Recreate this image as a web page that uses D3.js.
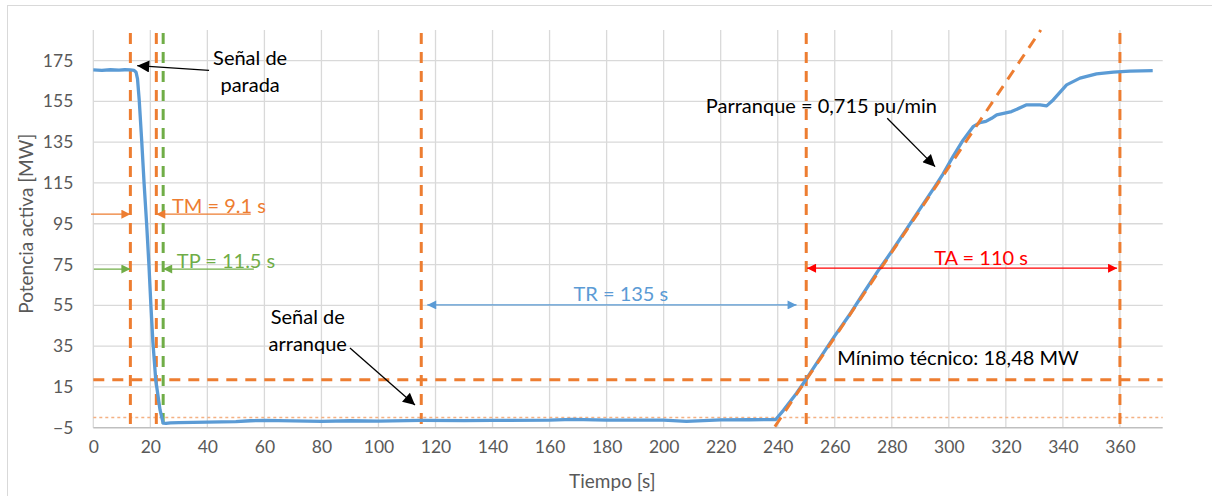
<!DOCTYPE html>
<html><head><meta charset="utf-8">
<script src="https://cdn.jsdelivr.net/npm/d3@7"></script>
<style>body{margin:0;background:#fff}svg{display:block}</style>
</head><body><svg id="c" width="1212" height="496"></svg>
<script>
// ---- data ----
const timeS = [0, 3, 6, 9, 11, 13, 14.3, 15, 15.5, 16.1, 17, 17.8, 18.7, 19.5, 20.2, 20.9, 21.9, 23.4, 24.5, 25.5, 27, 30, 40, 50, 55, 60, 70, 80, 90, 100, 110, 115, 130, 140, 160, 168, 180, 200, 208, 220, 230, 239.3, 242, 246.6, 250, 255, 260, 265, 270, 275, 280, 285, 290, 295, 298, 301.5, 305, 308.5, 310.9, 313, 315, 316.8, 322, 327.3, 332, 334.3, 336.6, 341.3, 346, 351.8, 357.7, 363.5, 371.5];
const powerMW = [170.4, 170.2, 170.5, 170.3, 170.5, 170.4, 170.2, 169.3, 166, 155.7, 135, 115, 95, 75, 55, 37, 18.4, 3.7, -2.8, -2.9, -2.6, -2.5, -2.3, -2.0, -1.6, -1.4, -1.7, -1.9, -1.6, -1.8, -1.5, -1.4, -1.5, -1.4, -1.3, -0.9, -1.3, -1.3, -1.9, -1.2, -1.1, -1.0, 3.5, 11.9, 18.8, 29.5, 40, 50, 60.8, 71.5, 81.5, 92, 102.5, 113, 119.5, 128, 136, 142.6, 144.6, 145.2, 146.7, 148.4, 150, 153.3, 153.3, 152.8, 155.7, 163.1, 166.4, 168.5, 169.3, 169.8, 170.1];
const xTicks = [0, 20, 40, 60, 80, 100, 120, 140, 160, 180, 200, 220, 240, 260, 280, 300, 320, 340, 360];
const yTicks = [-5, 15, 35, 55, 75, 95, 115, 135, 155, 175];
const orangeMarkers = [13, 22.1, 115, 250, 360];
const greenMarkers = [24.5];
const minTecnicoMW = 18.48;
const zeroRefMW = 0;
const rampPuPerMin = 0.715;
const pNomMW = 175;
const rampStartT = 239;

// ---- layout ----
const svg = d3.select("#c");
const x = d3.scaleLinear().domain([0, 375]).range([93.3, 1162.7]);
const y = d3.scaleLinear().domain([-5, 190]).range([427.7, 30]);
const FONT = "Lato, 'Open Sans', sans-serif";
const ORANGE = "#ed7d31", GREEN = "#70ad47", BLUE = "#5b9bd5", RED = "#ff0000";
const ANN = 20;

// chart border
svg.append("rect").attr("x", 7.5).attr("y", 5.5).attr("width", 1220).attr("height", 520)
  .attr("fill", "none").attr("stroke", "#d9d9d9").attr("stroke-width", 1);

// arrow markers
const defs = svg.append("defs");
function marker(id, color) {
  defs.append("marker").attr("id", id).attr("viewBox", "0 0 10 10")
    .attr("refX", 10).attr("refY", 5).attr("markerWidth", 11).attr("markerHeight", 9)
    .attr("markerUnits", "userSpaceOnUse").attr("orient", "auto-start-reverse")
    .append("path").attr("d", "M0,0 L10,5 L0,10 Z").attr("fill", color);
}
marker("aO", ORANGE); marker("aG", GREEN); marker("aB", BLUE); marker("aR", RED);
defs.append("marker").attr("id", "aK").attr("viewBox", "0 0 10 10")
  .attr("refX", 10).attr("refY", 5).attr("markerWidth", 14).attr("markerHeight", 12)
  .attr("markerUnits", "userSpaceOnUse").attr("orient", "auto")
  .append("path").attr("d", "M0,0 L10,5 L0,10 Z").attr("fill", "#000");

// gridlines
const g = svg.append("g");
g.selectAll(".vg").data(xTicks).join("line")
  .attr("x1", d => x(d)).attr("x2", d => x(d)).attr("y1", y(190)).attr("y2", y(-5))
  .attr("stroke", "#d9d9d9").attr("stroke-width", 1.3);
g.selectAll(".hg").data(yTicks.slice(1)).join("line")
  .attr("x1", x(0)).attr("x2", x(375)).attr("y1", d => y(d)).attr("y2", d => y(d))
  .attr("stroke", "#d9d9d9").attr("stroke-width", 1.3);
g.append("line").attr("x1", x(0)).attr("x2", x(375)).attr("y1", y(-5)).attr("y2", y(-5))
  .attr("stroke", "#bfbfbf").attr("stroke-width", 1.5);

// axes tick labels
const xAxis = d3.axisBottom(x).tickValues(xTicks).tickSize(0).tickPadding(13);
const xa = svg.append("g").attr("transform", `translate(0,${y(-5)})`).call(xAxis);
const yAxis = d3.axisLeft(y).tickValues(yTicks).tickSize(0).tickPadding(20);
const ya = svg.append("g").attr("transform", `translate(${x(0)},0)`).call(yAxis);
[xa, ya].forEach(a => {
  a.select(".domain").remove();
  a.selectAll("text").attr("font-family", FONT).attr("font-size", 17.5).attr("fill", "#595959");
});

// axis titles
svg.append("text").attr("x", x(182)).attr("y", 480).attr("text-anchor", "middle")
  .attr("dominant-baseline", "central").attr("font-family", FONT).attr("font-size", 19)
  .attr("fill", "#595959").text("Tiempo [s]");
svg.append("text").attr("transform", `translate(25,${y(95)}) rotate(-90)`)
  .attr("text-anchor", "middle").attr("dominant-baseline", "central")
  .attr("font-family", FONT).attr("font-size", 19).attr("fill", "#595959")
  .text("Potencia activa [MW]");

// dotted zero reference
svg.append("line").attr("x1", x(0)).attr("x2", x(375)).attr("y1", y(zeroRefMW)).attr("y2", y(zeroRefMW))
  .attr("stroke", "#f4b183").attr("stroke-width", 1.5).attr("stroke-dasharray", "3,3");
// minimo tecnico dashed
svg.append("line").attr("x1", x(0)).attr("x2", x(375)).attr("y1", y(minTecnicoMW)).attr("y2", y(minTecnicoMW))
  .attr("stroke", ORANGE).attr("stroke-width", 3).attr("stroke-dasharray", "11,8");
// vertical markers
svg.selectAll(".vo").data(orangeMarkers).join("line")
  .attr("x1", d => x(d)).attr("x2", d => x(d)).attr("y1", y(188.5)).attr("y2", y(-6))
  .attr("stroke", ORANGE).attr("stroke-width", 3).attr("stroke-dasharray", "11,8");
svg.selectAll(".vgn").data(greenMarkers).join("line")
  .attr("x1", d => x(d)).attr("x2", d => x(d)).attr("y1", y(188.5)).attr("y2", y(-6))
  .attr("stroke", GREEN).attr("stroke-width", 3).attr("stroke-dasharray", "11,8");

// data line
const line = d3.line().x((d, i) => x(timeS[i])).y((d, i) => y(powerMW[i]));
svg.append("path").datum(powerMW).attr("d", line).attr("fill", "none")
  .attr("stroke", BLUE).attr("stroke-width", 3.3).attr("stroke-linejoin", "round");

// ramp trend line
const slope = rampPuPerMin * pNomMW / 60; // MW/s
const tAt = v => 250 + (v - minTecnicoMW) / slope;
svg.append("line").attr("x1", x(rampStartT)).attr("y1", y(minTecnicoMW + slope * (rampStartT - 250)))
  .attr("x2", x(tAt(190))).attr("y2", y(190))
  .attr("stroke", ORANGE).attr("stroke-width", 3).attr("stroke-dasharray", "11,8");

// ---- annotations ----
function txt(t, v, s, color, anchor) {
  svg.append("text").attr("x", x(t)).attr("y", y(v)).attr("text-anchor", anchor || "start")
    .attr("dominant-baseline", "central").attr("font-family", FONT).attr("font-size", ANN)
    .attr("fill", color).text(s);
}
function arrow(t1, v1, t2, v2, color, mk, both, w) {
  const l = svg.append("line").attr("x1", x(t1)).attr("y1", y(v1)).attr("x2", x(t2)).attr("y2", y(v2))
    .attr("stroke", color).attr("stroke-width", w || 1.3).attr("marker-end", `url(#${mk})`);
  if (both) l.attr("marker-start", `url(#${mk})`);
}
// Señal de parada
txt(55, 176.8, "Señal de", "#000", "middle");
txt(55, 163.6, "parada", "#000", "middle");
arrow(40.6, 170.2, 15.4, 172.5, "#000", "aK");
// TM
txt(27.6, 104.2, "TM = 9.1 s", ORANGE);
arrow(-0.8, 99.7, 13, 99.7, ORANGE, "aO");
arrow(55.2, 99.7, 22.1, 99.7, ORANGE, "aO");
// TP
txt(29.3, 77.2, "TP = 11.5 s", GREEN);
arrow(0.2, 72.8, 13, 72.8, GREEN, "aG");
arrow(56.3, 72.8, 24.5, 72.8, GREEN, "aG");
// Señal de arranque
txt(75.2, 49.8, "Señal de", "#000", "middle");
txt(75.2, 36.4, "arranque", "#000", "middle");
arrow(90.0, 34.1, 112.8, 6.1, "#000", "aK");
// TR
txt(185, 61.1, "TR = 135 s", BLUE, "middle");
arrow(117.1, 55.2, 246.6, 55.2, BLUE, "aB", true);
// TA
txt(311.3, 78.6, "TA = 110 s", RED, "middle");
arrow(250.3, 73.2, 359, 73.2, RED, "aR", true);
// Minimo tecnico
txt(260.9, 29.5, "Mínimo técnico: 18,48 MW", "#000");
// Parranque
txt(214.8, 153.3, "Parranque = 0,715 pu/min", "#000");
arrow(278.4, 146.7, 295.2, 123.0, "#000", "aK");
</script>
</body></html>
